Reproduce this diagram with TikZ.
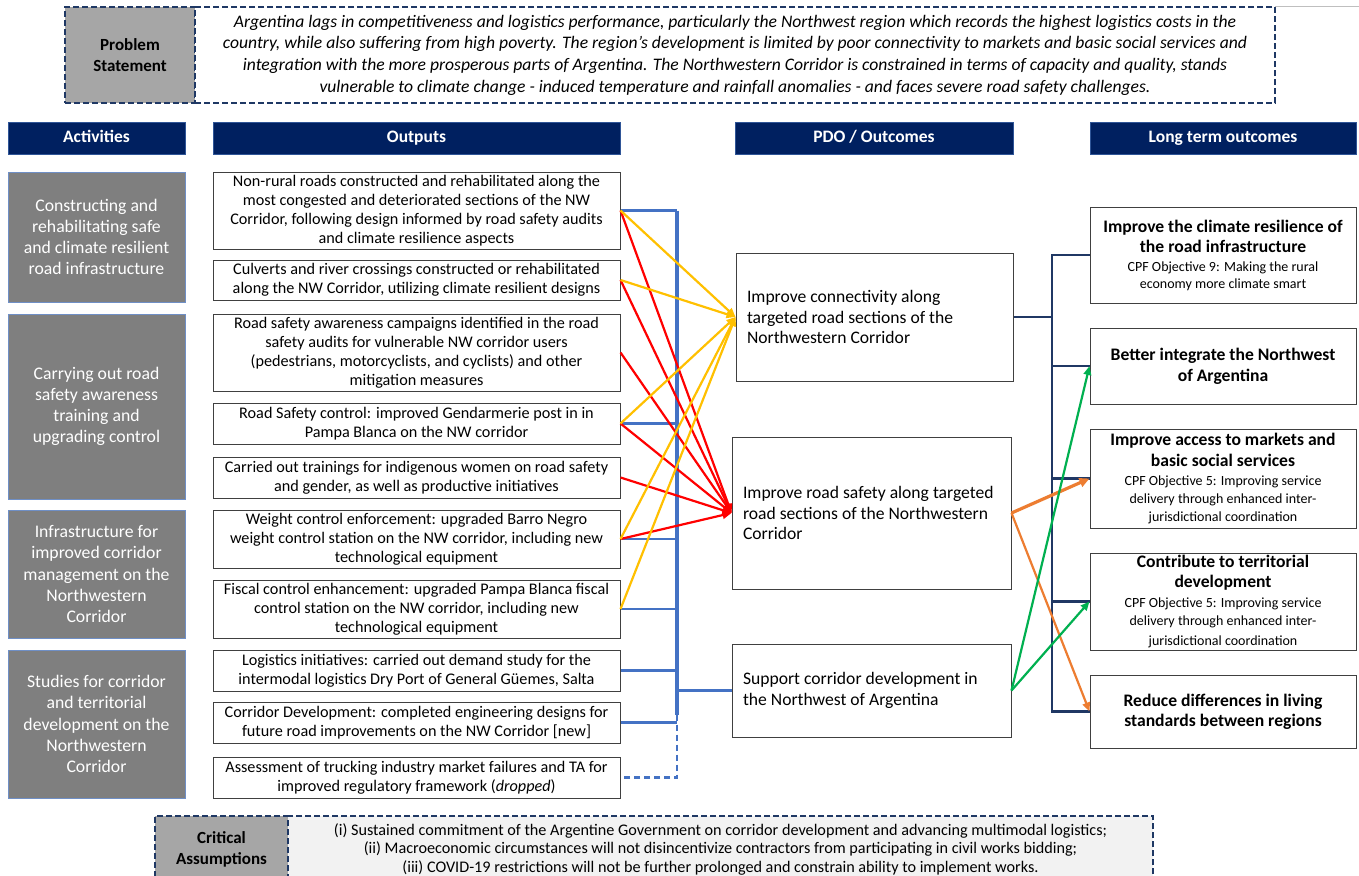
\documentclass[tikz,border=0pt]{standalone}
\usepackage{fontspec}
\setmainfont{Carlito}
\usetikzlibrary{arrows.meta}
\definecolor{navy}{HTML}{002060}
\definecolor{hdrline}{HTML}{2F5597}
\definecolor{actgray}{HTML}{7F7F7F}
\definecolor{actline}{HTML}{6F8FC6}
\definecolor{lblgray}{HTML}{A6A6A6}
\definecolor{boxline}{HTML}{404040}
\definecolor{dashnavy}{HTML}{1F3864}
\definecolor{busblue}{HTML}{4472C4}
\definecolor{busnavy}{HTML}{203864}
\definecolor{ayellow}{HTML}{FFC000}
\definecolor{ared}{HTML}{FF0000}
\definecolor{aorange}{HTML}{ED7D31}
\definecolor{agreen}{HTML}{00B050}
\definecolor{paleback}{HTML}{F2F2F2}
\begin{document}
\begin{tikzpicture}[x=1pt,y=-1pt,
  hdr/.style={fill=navy,draw=hdrline,line width=0.8pt,text=white,
    font=\bfseries\fontsize{17.5}{20}\selectfont,inner sep=0pt,minimum height=32pt,
    text height=12pt,text depth=3.5pt},
  actbox/.style={fill=actgray,draw=actline,line width=0.8pt,text=white,align=center,
    font=\fontsize{17.7}{21.2}\selectfont,minimum width=177pt,inner sep=0pt},
  outbox/.style={fill=white,draw=boxline,line width=1pt,align=center,
    font=\fontsize{16.2}{19}\selectfont,minimum width=407pt,inner sep=0pt},
  pdobox/.style={fill=white,draw=boxline,line width=1pt,align=flush left,
    font=\fontsize{17.6}{20.6}\selectfont,inner xsep=11pt,inner ysep=0pt},
  ltbox/.style={fill=white,draw=boxline,line width=1pt,align=center,
    font=\fontsize{14}{20}\selectfont,minimum width=266pt,inner sep=0pt},
  lblbox/.style={fill=lblgray,draw=dashnavy,line width=1.1pt,dash pattern=on 6pt off 3pt,
    align=center,inner sep=0pt},
  txtbox/.style={draw=dashnavy,line width=1.1pt,dash pattern=on 6pt off 3pt,
    align=center,inner sep=0pt},
  bus/.style={draw=busblue,line width=2.5pt},
  nbus/.style={draw=busnavy,line width=2.6pt},
  arr/.style={-{Triangle[length=9pt,width=7.5pt]},line width=2.2pt},
]
\useasboundingbox (0,0) rectangle (1359,875);
\fill[white] (0,0) rectangle (1359,875);
\draw[black!25,line width=0.8pt] (1275,6) -- (1359,6);

% ---------- problem statement ----------
\node[lblbox,minimum width=130pt,minimum height=96pt,
  font=\bfseries\fontsize{17}{21}\selectfont] (psl) at (130,55) {Problem\\Statement};
\node[txtbox,fill=white,minimum width=1080pt,minimum height=96pt,
  font=\itshape\fontsize{17.6}{21.6}\selectfont] (pst) at (735,55)
  {Argentina lags in competitiveness and logistics performance, particularly the Northwest region which records the highest logistics costs in the\\
   country, while also suffering from high poverty. The region’s development is limited by poor connectivity to markets and basic social services and\\
   integration with the more prosperous parts of Argentina. The Northwestern Corridor is constrained in terms of capacity and quality, stands\\
   vulnerable to climate change - induced temperature and rainfall anomalies - and faces severe road safety challenges.};

% ---------- column headers ----------
\node[hdr,minimum width=177pt] (hact) at (96.5,138) {Activities};
\node[hdr,minimum width=407pt] (hout) at (416.5,138) {Outputs};
\node[hdr,minimum width=278pt] (hpdo) at (874,138) {PDO / Outcomes};
\node[hdr,minimum width=266pt] (hlt) at (1223,138) {Long term outcomes};

% ---------- activities ----------
\node[actbox,minimum height=130pt] (a1) at (96.5,237)
  {Constructing and\\rehabilitating safe\\and climate resilient\\road infrastructure};
\node[actbox,minimum height=185pt] (a2) at (96.5,406.5)
  {Carrying out road\\safety awareness\\training and\\upgrading control};
\node[actbox,minimum height=128pt] (a3) at (96.5,574)
  {Infrastructure for\\improved corridor\\management on the\\Northwestern\\Corridor};
\node[actbox,minimum height=148pt] (a4) at (96.5,724)
  {Studies for corridor\\and territorial\\development on the\\Northwestern\\Corridor};

% ---------- outputs ----------
\node[outbox,minimum height=77pt] (o1) at (416.5,210.5)
  {Non-rural roads constructed and rehabilitated along the\\most congested and deteriorated sections of the NW\\Corridor, following design informed by road safety audits\\and climate resilience aspects};
\node[outbox,minimum height=40pt] (o2) at (416.5,280)
  {Culverts and river crossings constructed or rehabilitated\\along the NW Corridor, utilizing climate resilient designs};
\node[outbox,minimum height=77pt] (o3) at (416.5,352.5)
  {Road safety awareness campaigns identified in the road\\safety audits for vulnerable NW corridor users\\(pedestrians, motorcyclists, and cyclists) and other\\mitigation measures};
\node[outbox,minimum height=41pt] (o4) at (416.5,423.5)
  {Road Safety control: improved Gendarmerie post in in\\Pampa Blanca on the NW corridor};
\node[outbox,minimum height=41pt] (o5) at (416.5,477.5)
  {Carried out trainings for indigenous women on road safety\\and gender, as well as productive initiatives};
\node[outbox,minimum height=58pt] (o6) at (416.5,539)
  {Weight control enforcement: upgraded Barro Negro\\weight control station on the NW corridor, including new\\technological equipment};
\node[outbox,minimum height=58pt] (o7) at (416.5,609)
  {Fiscal control enhancement: upgraded Pampa Blanca fiscal\\control station on the NW corridor, including new\\technological equipment};
\node[outbox,minimum height=41pt] (o8) at (416.5,670.5)
  {Logistics initiatives: carried out demand study for the\\intermodal logistics Dry Port of General Güemes, Salta};
\node[outbox,minimum height=41pt] (o9) at (416.5,722.5)
  {Corridor Development: completed engineering designs for\\future road improvements on the NW Corridor [new]};
\node[outbox,minimum height=41pt] (o10) at (416.5,777.5)
  {Assessment of trucking industry market failures and TA for\\improved regulatory framework (\textit{dropped})};

% ---------- PDO / outcomes ----------
\node[pdobox,text width=255pt,minimum height=128pt] (p1) at (874.5,317)
  {Improve connectivity along\\targeted road sections of the\\Northwestern Corridor};
\node[pdobox,text width=257pt,minimum height=152pt] (p2) at (871.5,513)
  {Improve road safety along targeted\\road sections of the Northwestern\\Corridor};
\node[pdobox,text width=257pt,minimum height=93pt] (p3) at (871.5,690.5)
  {Support corridor development in\\the Northwest of Argentina};

% ---------- long term outcomes ----------
\newcommand\ltt{\bfseries\fontsize{17.6}{20}\selectfont}
\newcommand\lts{\mdseries\fontsize{14}{20}\selectfont}
\node[ltbox,minimum height=96pt] (l1) at (1223,255)
  {{\ltt Improve the climate resilience of}\\[0pt]{\ltt the road infrastructure}\\[-1pt]
   {\lts CPF Objective 9: Making the rural}\\[-3pt]{\lts economy more climate smart}};
\node[ltbox,minimum height=76pt] (l2) at (1223,366)
  {{\ltt Better integrate the Northwest}\\[1pt]{\ltt of Argentina}};
\node[ltbox,minimum height=99pt] (l3) at (1223,478.5)
  {{\ltt Improve access to markets and}\\[1pt]{\ltt basic social services}\\[-1pt]
   {\lts CPF Objective 5: Improving service}\\[-2pt]{\lts delivery through enhanced inter-}\\[-2pt]
   {\lts jurisdictional coordination}};
\node[ltbox,minimum height=97pt] (l4) at (1223,601.5)
  {{\ltt Contribute to territorial}\\[0pt]{\ltt development}\\[0pt]
   {\lts CPF Objective 5: Improving service}\\[-2pt]{\lts delivery through enhanced inter-}\\[0pt]
   {\lts jurisdictional coordination}};
\node[ltbox,minimum height=73pt] (l5) at (1223,711.5)
  {{\ltt Reduce differences in living}\\[0pt]{\ltt standards between regions}};

% ---------- blue bus collecting the outputs ----------
\coordinate (bx) at (677,0);
\draw[bus] (o1.east) -- (o1.east -| bx);
\draw[bus,line width=3.4pt] (o1.east -| bx) -- ([yshift=8pt]o9.east -| bx);
\foreach \s in {o4,o6,o7,o8,o9} \draw[bus] (\s.east) -- (\s.east -| bx);
\draw[bus,dash pattern=on 6pt off 4pt] ([yshift=8pt]o9.east -| bx) -- (o10.east -| bx) -- (o10.east);
\draw[bus,line width=3.8pt] (p3.west -| bx) -- (p3.west);

% ---------- navy bus to long term outcomes ----------
\coordinate (nx) at (1052,0);
\draw[nbus] (p1.east) -- (p1.east -| nx);
\draw[nbus] (l1.west) -| (l5.west -| nx) -- (l5.west);
\foreach \s in {l2,l3,l4} \draw[nbus] (\s.west) -- (\s.west -| nx);

% ---------- causal arrows ----------
\foreach \s in {o1,o2,o3,o4,o5,o6} \draw[arr,ared] (\s.east) -- (p2.west);
\foreach \s in {o1,o2,o4,o6,o7} \draw[arr,ayellow] (\s.east) -- (p1.west);
\draw[arr,aorange,line width=3.2pt,-{Triangle[length=10pt,width=9pt]}] (p2.east) -- (l3.west);
\draw[arr,aorange] (p2.east) -- (l5.west);
\draw[arr,agreen] (p3.east) -- (l2.west);
\draw[arr,agreen] (p3.east) -- (l4.west);

% ---------- critical assumptions ----------
\node[txtbox,fill=paleback,minimum width=865pt,minimum height=66pt,
  font=\fontsize{16.2}{18.5}\selectfont] (cat) at (720.5,849)
  {(i) Sustained commitment of the Argentine Government on corridor development and advancing multimodal logistics;\\
   (ii) Macroeconomic circumstances will not disincentivize contractors from participating in civil works bidding;\\
   (iii) COVID-19 restrictions will not be further prolonged and constrain ability to implement works.};
\node[lblbox,minimum width=133pt,minimum height=66pt,
  font=\bfseries\fontsize{17}{21}\selectfont] (cal) at (221.5,849) {Critical\\Assumptions};
\end{tikzpicture}
\end{document}
